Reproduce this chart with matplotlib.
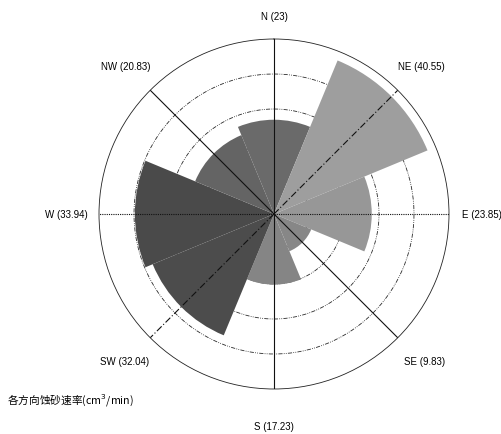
import numpy as np
import matplotlib
matplotlib.use("Agg")
import matplotlib.pyplot as plt

directions = ["N", "NE", "E", "SE", "S", "SW", "W", "NW"]
values = [23, 40.55, 23.85, 9.83, 17.23, 32.04, 33.94, 20.83]
colors = ["#6a6a6a", "#9e9e9e", "#979797", "#878787", "#858585", "#4c4c4c", "#4a4a4a", "#646464"]
title_text = "各方向蚀砂速率(cm$^3$/min)"

RMAX = 42.7
W, H = 501, 435
fig = plt.figure(figsize=(W / 100, H / 100), dpi=100)
cx, cy, rad = 274, 215, 175
ax = fig.add_axes([(cx - rad) / W, (H - cy - rad) / H, 2 * rad / W, 2 * rad / H],
                  projection="polar")
ax.set_theta_zero_location("N")
ax.set_theta_direction(-1)
ax.set_ylim(0, RMAX)
ax.grid(False)
ax.set_xticks([])
ax.set_yticks([])
ax.spines["polar"].set_linewidth(0.6)
ax.spines["polar"].set_color("#222222")

theta = np.deg2rad(np.arange(len(directions)) * 45.0)
width = np.deg2rad(45.0)

# rings (behind sectors)
tt = np.linspace(0, 2 * np.pi, 400)
for k in range(1, 5):
    ax.plot(tt, np.full_like(tt, RMAX * k / 5), color="#2a2a2a", lw=0.6,
            linestyle=(0, (5, 1.5, 1, 1.5, 1, 1.5)), zorder=1)

ax.bar(theta, values, width=width, color=colors, edgecolor="none", zorder=2)

# direction lines
styles = {0: "-", 1: (0, (6, 2, 1, 2)), 2: (0, (1, 1)), 3: "-"}
for i, t in enumerate(theta):
    ls = styles[i % 4]
    ax.plot([t, t], [0, RMAX], color="#111111", lw=0.8, linestyle=ls, zorder=3)

fs = 7
fam = ["Liberation Sans", "DejaVu Sans"]
label_pos = {
    "N": (274, 17, "center"),
    "NE": (398, 67, "left"),
    "E": (462, 215, "left"),
    "SE": (404, 362, "left"),
    "S": (274, 427, "center"),
    "SW": (100, 362, "left"),
    "W": (45, 215, "left"),
    "NW": (101, 67, "left"),
}
for d, v in zip(directions, values):
    x, y, ha = label_pos[d]
    fig.text(x / W, 1 - y / H, f"{d} ({v:g})", fontsize=fs, ha=ha, va="center",
             family=fam)

fig.text(7 / W, 1 - 400 / H, title_text, fontsize=7.7, ha="left", va="center",
         family=["Noto Sans CJK SC", "DejaVu Sans"])

fig.savefig("out.png", dpi=100)
